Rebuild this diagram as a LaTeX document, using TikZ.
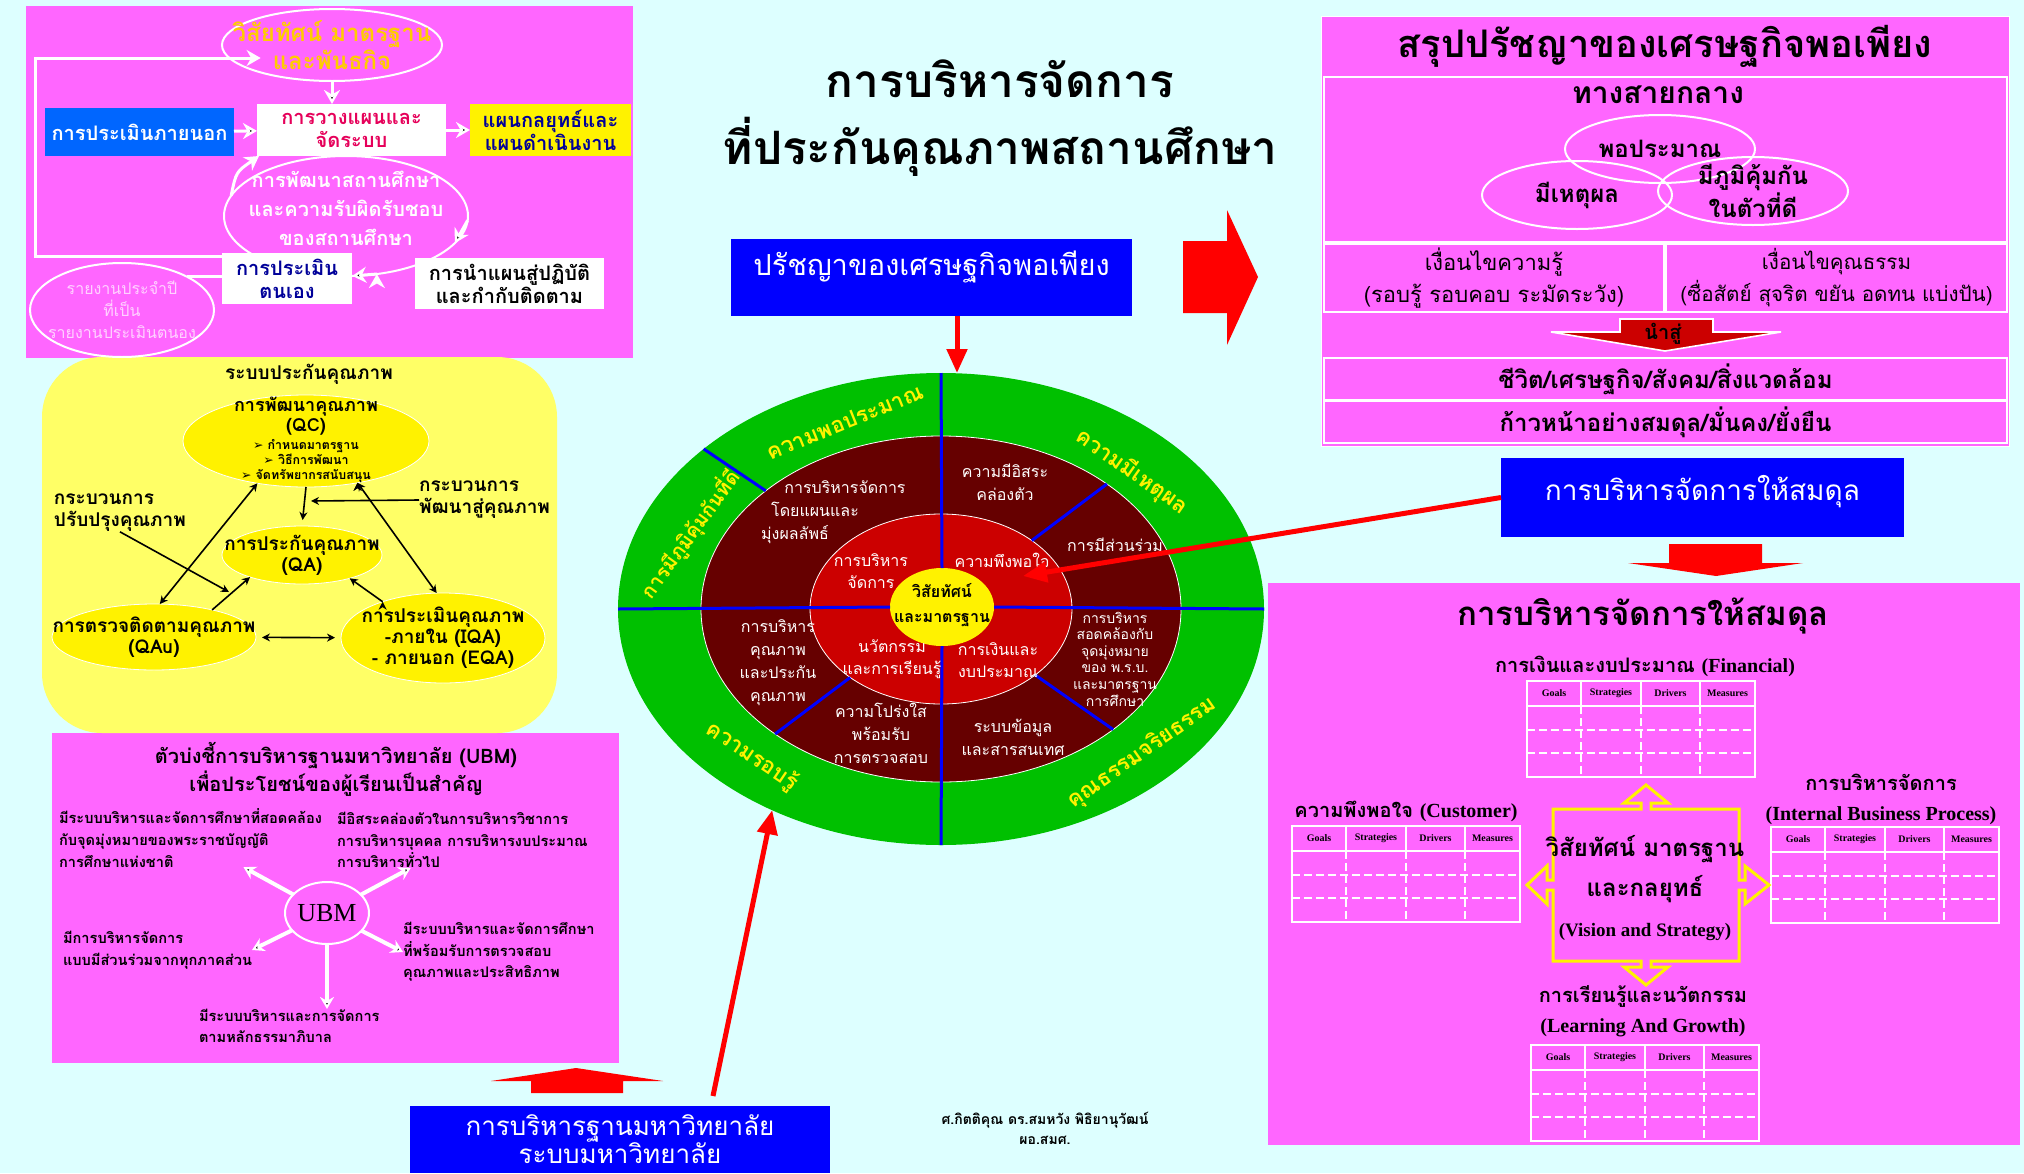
\documentclass[tikz,border=0pt]{standalone}
\usepackage{fontspec}
\setmainfont[Script=Thai]{Loma}
\newfontfamily\enserif{Liberation Serif}
\newfontfamily\dingsans{DejaVu Sans}
\usetikzlibrary{arrows.meta, positioning, calc, shapes.geometric}

\definecolor{bgcyan}{RGB}{221,255,255}
\definecolor{panelpink}{RGB}{255,102,255}
\definecolor{panelyellow}{RGB}{255,255,102}
\definecolor{ringgreen}{RGB}{0,192,0}
\definecolor{ringmaroon}{RGB}{102,0,0}
\definecolor{ringred}{RGB}{204,0,0}
\definecolor{arrowred}{RGB}{255,0,0}
\definecolor{boxblue}{RGB}{0,0,255}
\definecolor{skyblue}{RGB}{0,102,255}
\definecolor{navytext}{RGB}{0,0,153}
\definecolor{crimsontext}{RGB}{230,0,90}
\definecolor{goldtext}{RGB}{255,204,0}
\definecolor{palepink}{RGB}{255,210,255}

\begin{document}
\begin{tikzpicture}[x=0.5pt, y=-0.5pt, >={Stealth[length=4pt, width=4pt]}, semithick]
	\tikzstyle{every node}=[align=center, inner sep=0pt, outer sep=0pt]
	\tikzstyle{flatbox}=[rectangle, font=\fontsize{10}{11.5}\selectfont\bfseries]
	\tikzstyle{frame}=[rectangle, draw=white, line width=1pt]
	\tikzstyle{oval}=[ellipse, inner sep=-60pt]
	\tikzstyle{ring}=[ellipse]
	\tikzstyle{wline}=[draw=white, line width=1.5pt, -{Stealth[length=7pt, width=8pt]}]
	\tikzstyle{qarrow}=[draw=black, line width=0.8pt, ->]
	\tikzstyle{qoval}=[oval, fill=yellow, draw=white, thin, font=\fontsize{9.5}{8.5}\selectfont\bfseries]
	\tikzstyle{qtext}=[font=\fontsize{9.5}{11}\selectfont\bfseries]
	\tikzstyle{ubmitem}=[anchor=west, align=left, font=\fontsize{7.3}{10.8}\selectfont\bfseries]
	\tikzstyle{ubmarrow}=[draw=white, line width=2pt, -{Stealth[length=6pt, width=7pt]}]
	\tikzstyle{outerword}=[text=yellow, font=\fontsize{11}{13}\selectfont\bfseries]
	\tikzstyle{midword}=[text=white, font=\fontsize{8}{11.5}\selectfont]
	\tikzstyle{innerword}=[text=white, font=\fontsize{8}{11}\selectfont]
	\tikzstyle{divider}=[draw=boxblue, line width=1.5pt]
	\tikzstyle{redline}=[draw=arrowred, line width=2.5pt, -{Triangle[length=12pt, width=10pt]}]
	\tikzstyle{venn}=[oval, draw=white, line width=1pt, minimum width=95pt, minimum height=34pt, font=\fontsize{12}{14}\selectfont\bfseries]
	\tikzstyle{bsclabel}=[font=\fontsize{10}{15}\selectfont\bfseries]
	\tikzstyle{tabline}=[draw=white, line width=1.2pt]
	\tikzstyle{tabhead}=[font=\enserif\bfseries\fontsize{5}{6}\selectfont]

	\useasboundingbox (0,0) rectangle (2024,1173);
	\fill[bgcyan] (0,0) rectangle (2024,1173);
	\fill[panelpink] (26,6) rectangle (633,358);
	\fill[panelpink] (52,733) rectangle (619,1063);
	\filldraw[panelpink, draw=white, thin] (1321,16) rectangle (2009,446);
	\fill[panelpink] (1268,583) rectangle (2020,1145);
	\fill[panelyellow, rounded corners=30pt] (42,357) rectangle (557,733);

	\node[oval, draw=white, line width=1pt, minimum width=122pt, minimum height=60pt] (develop) at (346,216) {};
	\node[text=white, font=\fontsize{10}{14.5}\selectfont\bfseries] (developtext) at (346,208) {การพัฒนาสถานศึกษา\\และความรับผิดรับชอบ\\ของสถานศึกษา};
	\node[oval, draw=white, line width=1pt, minimum width=110pt, minimum height=36pt, text=goldtext, font=\fontsize{12}{13}\selectfont\bfseries] (vision) at (332,45) {วิสัยทัศน์ มาตรฐาน\\และพันธกิจ};
	\node[flatbox, fill=skyblue, text=white, minimum width=94.5pt, minimum height=24pt] (outside) at (139.5,132) {การประเมินภายนอก};
	\node[flatbox, fill=white, text=crimsontext, minimum width=94.5pt, minimum height=26pt] (plansys) at (351.5,130) {การวางแผนและ\\จัดระบบ};
	\node[flatbox, fill=yellow, text=navytext, minimum width=80.5pt, minimum height=26pt] (stratplan) at (550.5,130) {แผนกลยุทธ์และ\\แผนดำเนินงาน};
	\node[flatbox, fill=white, text=navytext, minimum width=65pt, minimum height=25.5pt] (selfeval) at (287,278.5) {การประเมิน\\ตนเอง};
	\node[flatbox, fill=white, text=black, minimum width=94.5pt, minimum height=25.5pt] (implement) at (509.5,283.5) {การนำแผนสู่ปฏิบัติ\\และกำกับติดตาม};
	\node[oval, draw=white, line width=1pt, minimum width=92pt, minimum height=47pt, text=palepink, font=\fontsize{8}{11}\selectfont] (report) at (122,310) {รายงานประจำปี\\ที่เป็น\\รายงานประเมินตนอง};
	\coordinate (loopcorner) at (35,58);

	\path[wline] (outside) edge (plansys)
		(plansys) edge (stratplan)
		(vision.south) edge (vision.south |- plansys.north)
		(develop.-2) edge (develop.-14)
		(develop.-62) edge (develop.-84);
	\draw[wline] (develop.170) .. controls (236,172) .. ([xshift=1pt]plansys.south west);
	\draw[wline] ([yshift=-1.5pt]selfeval.north west) -| (loopcorner) -- (loopcorner -| vision.201);
	\draw[wline, -] (report.north east) -- (report.north east -| selfeval.west);

	\node[qtext] (qsystem) at (309,374) {ระบบประกันคุณภาพ};
	\node[qoval, minimum width=123pt, minimum height=46pt] (qc) at (306,441) {};
	\node[font=\fontsize{9}{8.5}\selectfont\bfseries] (qcname) at (306,416) {การพัฒนาคุณภาพ\\(QC)};
	\node[font=\fontsize{6.2}{7.4}\selectfont\bfseries] (qcsteps) at (306,461) {{\dingsans ➢} กำหนดมาตรฐาน\\{\dingsans ➢} วิธีการพัฒนา\\{\dingsans ➢} จัดทรัพยากรสนับสนุน};
	\node[qoval, minimum width=80pt, minimum height=29pt] (qa) at (302,555) {การประกันคุณภาพ\\(QA)};
	\node[qoval, minimum width=102pt, minimum height=33pt] (qau) at (154,637) {การตรวจติดตามคุณภาพ\\(QAu)};
	\node[qoval, minimum width=102pt, minimum height=45pt, font=\fontsize{9.5}{10.5}\selectfont\bfseries] (qe) at (443,638) {การประเมินคุณภาพ\\-ภายใน (IQA)\\- ภายนอก (EQA)};
	\node[qtext, anchor=west, align=left] (qimprove) at (54,513) {กระบวนการ\\ปรับปรุงคุณภาพ};
	\node[qtext, anchor=west, align=left] (qtoward) at (419,500) {กระบวนการ\\พัฒนาสู่คุณภาพ};
	\coordinate (qjoin) at (311,501);
	\coordinate (qaim) at (229,592);

	\path[qarrow] (qc.south) edge[shorten >=3pt] (qa.north)
		(qtoward.west) edge (qjoin)
		(qimprove.south) edge (qaim)
		(qau.25) edge (qa.203)
		(qe.149) edge (qa.-26);
	\path[qarrow, <->] (qc.221) edge (qau.80)
		(qc.-39) edge (qe.98)
		(qau) edge[shorten >=3pt, shorten <=3pt] (qe);

	\node[font=\fontsize{10}{14}\selectfont\bfseries] (ubmtitle) at (336,769) {ตัวบ่งชี้การบริหารฐานมหาวิทยาลัย (UBM)\\เพื่อประโยชน์ของผู้เรียนเป็นสำคัญ};
	\node[oval, draw=white, line width=1pt, minimum width=42pt, minimum height=31pt, font=\enserif\fontsize{13}{14}\selectfont] (ubm) at (327,913) {UBM};
	\node[ubmitem] (ubmlaw) at (59,838) {มีระบบบริหารและจัดการศึกษาที่สอดคล้อง\\กับจุดมุ่งหมายของพระราชบัญญัติ\\การศึกษาแห่งชาติ};
	\node[ubmitem] (ubmfree) at (337,840) {มีอิสระคล่องตัวในการบริหารวิชาการ\\การบริหารบุคคล การบริหารงบประมาณ\\การบริหารทั่วไป};
	\node[ubmitem] (ubmshare) at (63,950) {มีการบริหารจัดการ\\แบบมีส่วนร่วมจากทุกภาคส่วน};
	\node[ubmitem] (ubmaudit) at (403,952) {มีระบบบริหารและจัดการศึกษา\\ที่พร้อมรับการตรวจสอบ\\คุณภาพและประสิทธิภาพ};
	\node[ubmitem] (ubmgood) at (199,1026) {มีระบบบริหารและการจัดการ\\ตามหลักธรรมาภิบาล};

	\path[ubmarrow] (ubm) edge (ubmlaw)
		(ubm) edge (ubmfree)
		(ubm) edge (ubmshare.east)
		(ubm) edge (ubmaudit.west)
		(ubm) edge (ubm |- ubmgood.north);

	\node[font=\fontsize{23}{33.5}\selectfont\bfseries] (maintitle) at (1000,118) {การบริหารจัดการ\\ที่ประกันคุณภาพสถานศึกษา};
	\node[flatbox, fill=boxblue, minimum width=200.5pt, minimum height=38.5pt] (philosophy) at (931.5,277.5) {};
	\node[text=white, font=\fontsize{14.5}{18}\selectfont] (philtext) at (931.5,267) {ปรัชญาของเศรษฐกิจพอเพียง};
	\fill[arrowred] (1183,241) -- (1227,241) -- (1227,210) -- (1258,277) -- (1227,345) -- (1227,313) -- (1183,313) -- cycle;

	\node[ring, fill=ringgreen, minimum width=323pt, minimum height=236pt] (green) at (941,609) {};
	\node[ring, fill=ringmaroon, draw=white, thin, minimum width=240pt, minimum height=173pt] (maroon) at (941,609) {};
	\node[ring, fill=ringred, draw=white, thin, minimum width=131pt, minimum height=95pt] (redring) at (941,609) {};
	\node[ring, fill=yellow, minimum width=52pt, minimum height=39pt] (core) at (942,607) {};
	\path[divider] (green.north) edge (core.north)
		(core.south) edge (green.south)
		(green.west) edge (core.west)
		(core.east) edge (green.east)
		(green.146) edge (maroon.146)
		(maroon.37) edge (redring.37)
		(redring.-35) edge (maroon.-35)
		(redring.217) edge (maroon.217);

	\node[font=\fontsize{8}{12.5}\selectfont\bfseries] (coretext) at (942,605) {วิสัยทัศน์\\และมาตรฐาน};
	\node[outerword, rotate=22] (wmod) at (845,422) {ความพอประมาณ};
	\node[outerword, rotate=54, font=\fontsize{10}{12}\selectfont\bfseries] (wimm) at (690,534) {การมีภูมิคุ้มกันที่ดี};
	\node[outerword, rotate=-35] (wreas) at (1132,472) {ความมีเหตุผล};
	\node[outerword, rotate=35] (wmoral) at (1142,753) {คุณธรรมจริยธรรม};
	\node[outerword, rotate=-34] (wknow) at (752,756) {ความรอบรู้};
	\node[midword] (mplan) at (815,512) {\hspace*{30pt}การบริหารจัดการ\\โดยแผนและ\\มุ่งผลลัพธ์\hspace*{20pt}};
	\node[midword] (mfree) at (1005,482) {ความมีอิสระ\\คล่องตัว};
	\node[midword] (mshare) at (1115,545) {การมีส่วนร่วม};
	\node[midword, font=\fontsize{7}{8.3}\selectfont] (mlaw) at (1115,659) {การบริหาร\\สอดคล้องกับ\\จุดมุ่งหมาย\\ของ พ.ร.บ.\\และมาตรฐาน\\การศึกษา};
	\node[midword] (minfo) at (1013,737) {ระบบข้อมูล\\และสารสนเทศ};
	\node[midword] (mqual) at (778,663) {การบริหาร\\คุณภาพ\\และประกัน\\คุณภาพ};
	\node[midword] (mopen) at (881,733) {ความโปร่งใส\\พร้อมรับ\\การตรวจสอบ};
	\node[innerword] (rmanage) at (871,571) {การบริหาร\\จัดการ};
	\node[innerword] (rsatisfy) at (1002,560) {ความพึงพอใจ};
	\node[innerword] (rinnov) at (892,659) {นวัตกรรม\\และการเรียนรู้};
	\node[innerword] (rbudget) at (998,660) {การเงินและ\\งบประมาณ};

	\draw[redline] ([xshift=12.75pt]philosophy.south) coordinate (philfoot) -- (philfoot |- green.north);
	\node[flatbox, fill=boxblue, minimum width=201.5pt, minimum height=39.5pt] (balance) at (1702.5,497.5) {};
	\node[text=white, font=\fontsize{14}{18}\selectfont] (balancetext) at (1702.5,492) {การบริหารจัดการให้สมดุล};
	\coordinate (baltip) at (1023,576);
	\draw[redline] (balance.west) -- (baltip);
	\fill[arrowred] (1669,544) -- (1762,544) -- (1762,563) -- (1803,563) -- (1716,576) -- (1628,563) -- (1669,563) -- cycle;
	\node[flatbox, fill=boxblue, text=white, minimum width=210pt, minimum height=33.5pt, font=\fontsize{13}{14}\selectfont] (univ) at (620,1139.5) {การบริหารฐานมหาวิทยาลัย\\ระบบมหาวิทยาลัย};
	\draw[redline] ([xshift=46.5pt, yshift=5pt]univ.north) -- (green.230);
	\fill[arrowred] (531,1093) -- (531,1081) -- (491,1081) -- (576,1068) -- (663,1081) -- (623,1081) -- (623,1093) -- cycle;
	\node[font=\fontsize{7}{10}\selectfont\bfseries] (credit) at (1045,1128) {ศ.กิตติคุณ ดร.สมหวัง พิธิยานุวัฒน์\\ผอ.สมศ.};

	\node[font=\fontsize{19}{22}\selectfont\bfseries] (sumtitle) at (1665,46) {สรุปปรัชญาของเศรษฐกิจพอเพียง};
	\node[frame, minimum width=341.5pt, minimum height=82.5pt] (middle) at (1665.5,159.5) {};
	\node[font=\fontsize{15}{18}\selectfont\bfseries] (middletitle) at (1658,95) {ทางสายกลาง};
	\node[venn] (vmod) at (1660,149) {พอประมาณ};
	\node[venn] (vreas) at (1577,195) {มีเหตุผล};
	\node[venn] (vimm) at (1753,191) {มีภูมิคุ้มกัน\\ในตัวที่ดี};
	\node[frame, minimum width=170pt, minimum height=34pt, font=\fontsize{11}{16}\selectfont] (knowcond) at (1494,278) {เงื่อนไขความรู้\\(รอบรู้ รอบคอบ ระมัดระวัง)};
	\node[frame, minimum width=170.5pt, minimum height=34pt, font=\fontsize{10.3}{16}\selectfont] (virtcond) at (1836.5,278) {เงื่อนไขคุณธรรม\\(ซื่อสัตย์ สุจริต ขยัน อดทน แบ่งปัน)};
	\filldraw[fill=ringred, draw=white, line width=0.8pt] (1620,319) -- (1713,319) -- (1713,332) -- (1781,332) -- (1665,351) -- (1551,332) -- (1620,332) -- cycle;
	\node[font=\fontsize{10}{12}\selectfont\bfseries] (leadsto) at (1663,334) {นำสู่};
	\node[frame, minimum width=341.5pt, minimum height=21pt, font=\fontsize{12}{14}\selectfont\bfseries] (lifebox) at (1665.5,379) {ชีวิต/เศรษฐกิจ/สังคม/สิ่งแวดล้อม};
	\node[frame, minimum width=341.5pt, minimum height=21pt, font=\fontsize{12}{14}\selectfont\bfseries] (progress) at (1665.5,422) {ก้าวหน้าอย่างสมดุล/มั่นคง/ยั่งยืน};

	\node[font=\fontsize{16.5}{20}\selectfont\bfseries] (baltitle) at (1643,616) {การบริหารจัดการให้สมดุล};
	\node[bsclabel] (finlabel) at (1645,666) {การเงินและงบประมาณ {\enserif(Financial)}};
	\node[bsclabel] (cuslabel) at (1406,811) {ความพึงพอใจ {\enserif(Customer)}};
	\node[bsclabel] (ibplabel) at (1881,799) {การบริหารจัดการ\\{\enserif(Internal Business Process)}};
	\node[bsclabel] (lrnlabel) at (1643,1011) {การเรียนรู้และนวัตกรรม\\{\enserif(Learning And Growth)}};
	\foreach \tbl/\tx/\ty in {fin/1527/681, cus/1292/826, ibp/1771/827, lrn/1531/1045} {
		\draw[tabline] (\tx,\ty) rectangle ++(228,96);
		\draw[tabline] (\tx,\ty+25) -- ++(228,0);
		\foreach \cx in {54,114,173} {
			\draw[tabline] (\tx+\cx,\ty) -- ++(0,25);
			\draw[tabline, dash pattern=on 4pt off 2pt] (\tx+\cx,\ty+25) -- ++(0,71);
		}
		\foreach \ry in {49,72}
			\draw[tabline, dash pattern=on 4pt off 2pt] (\tx,\ty+\ry) -- ++(228,0);
		\foreach \hd/\hx [count=\k] in {Goals/27, Strategies/84, Drivers/143.5, Measures/200.5}
			\node[tabhead] (\tbl-\k) at (\tx+\hx,\ty+12.5) {\hd};
	}
	\draw[yellow, line width=1.5pt] (1553,809) -- (1641,809) -- (1641,803) -- (1624,803) -- (1646,785) -- (1668,803) -- (1651,803) -- (1651,809) -- (1739,809) -- (1739,880) -- (1745,880) -- (1745,866) -- (1769,885) -- (1745,904) -- (1745,890) -- (1739,890) -- (1739,961) -- (1651,961) -- (1651,967) -- (1668,967) -- (1646,985) -- (1624,967) -- (1641,967) -- (1641,961) -- (1553,961) -- (1553,890) -- (1547,890) -- (1547,904) -- (1527,885) -- (1547,866) -- (1547,880) -- (1553,880) -- cycle;
	\node[font=\fontsize{12}{20}\selectfont\bfseries] (vstrat) at (1645,888) {วิสัยทัศน์ มาตรฐาน\\และกลยุทธ์\\{\enserif\fontsize{9.5}{20}\selectfont(Vision and Strategy)}};
\end{tikzpicture}
\end{document}
